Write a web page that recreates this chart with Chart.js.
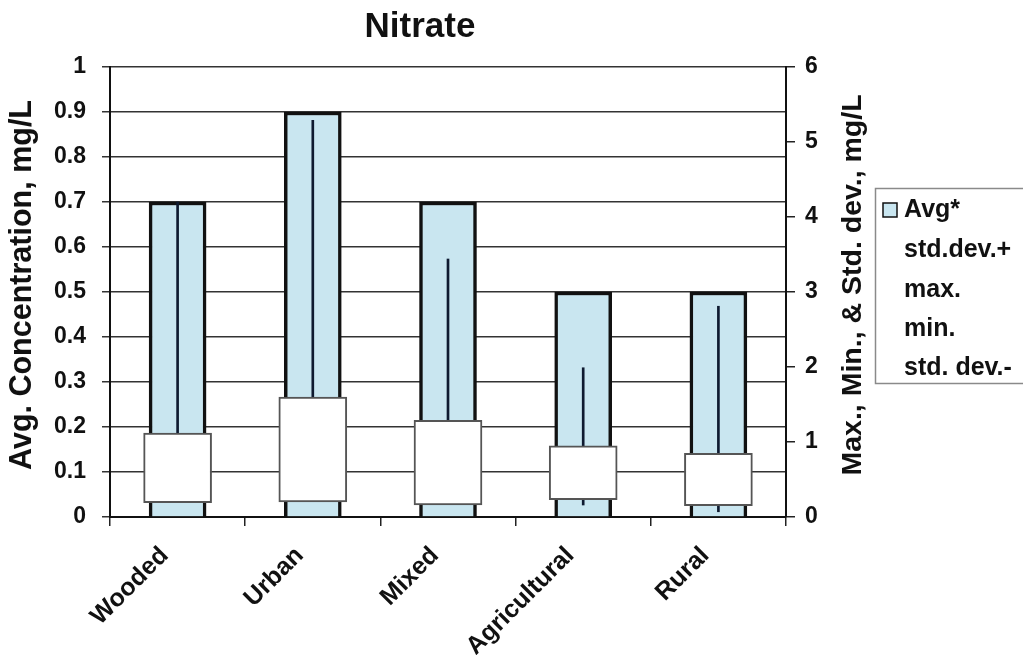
<!DOCTYPE html>
<html><head><meta charset="utf-8">
<script src="https://cdn.jsdelivr.net/npm/chart.js@4.4.1/dist/chart.umd.min.js"></script>
<style>html,body{margin:0;padding:0;background:#fff}#wrap{width:1023px;height:655px;position:relative}</style>
</head><body><div id="wrap"><canvas id="c"></canvas></div>
<script>
const categories = ['Wooded', 'Urban', 'Mixed', 'Agricultural', 'Rural'];
const avgConcentration = [0.7, 0.9, 0.7, 0.5, 0.5];
const stdDevPlus = [1.12, 1.6, 1.29, 0.95, 0.85];
const stdDevMinus = [0.19, 0.2, 0.16, 0.23, 0.15];
const maxValues = [4.2, 5.29, 3.44, 1.99, 2.81];
const minValues = [0.2, 0.22, 0.18, 0.16, 0.07];
const legendLabels = ['Avg*', 'std.dev.+', 'max.', 'min.', 'std. dev.-'];
const leftTickLabels = ['0', '0.1', '0.2', '0.3', '0.4', '0.5', '0.6', '0.7', '0.8', '0.9', '1'];
const rightTickLabels = ['0', '1', '2', '3', '4', '5', '6'];
const leftAxisTitle = 'Avg. Concentration, mg/L';
const rightAxisTitle = 'Max., Min., & Std. dev., mg/L';

const FONT = '"Liberation Sans", Arial, sans-serif';
const BAR_BLUE = '#c9e6f0';
Chart.defaults.font.family = FONT;
Chart.defaults.color = '#111';

const rangeData = categories.map((c, i) => [minValues[i], maxValues[i]]);
const boxData = categories.map((c, i) => [stdDevMinus[i], stdDevPlus[i]]);

function rotatedText(ctx, text, x, y, size) {
  ctx.save();
  ctx.translate(x, y);
  ctx.rotate(-Math.PI / 2);
  ctx.font = '700 ' + size + 'px ' + FONT;
  ctx.fillStyle = '#111';
  ctx.textAlign = 'center';
  ctx.textBaseline = 'middle';
  ctx.fillText(text, 0, 0);
  ctx.restore();
}

const extras = {
  id: 'extras',
  afterDraw(chart) {
    const ctx = chart.ctx;
    // axis titles (both read bottom to top)
    rotatedText(ctx, leftAxisTitle, 23, 285, 30.5);
    rotatedText(ctx, rightAxisTitle, 853, 285, 28.5);

    // legend
    ctx.save();
    ctx.strokeStyle = '#8a8a8a';
    ctx.lineWidth = 1.5;
    ctx.strokeRect(875.5, 188.5, 170, 195);
    ctx.fillStyle = BAR_BLUE;
    ctx.fillRect(883, 203, 14, 14);
    ctx.strokeStyle = '#111';
    ctx.lineWidth = 1.5;
    ctx.strokeRect(883, 203, 14, 14);
    ctx.fillStyle = '#111';
    ctx.font = '700 25px ' + FONT;
    ctx.textAlign = 'left';
    ctx.textBaseline = 'middle';
    const ys = [210, 250, 290, 329, 368];
    legendLabels.forEach((t, i) => ctx.fillText(t, 904, ys[i]));
    ctx.restore();
  }
};

new Chart(document.getElementById('c'), {
  type: 'bar',
  data: {
    labels: categories,
    datasets: [
      {
        label: legendLabels[0],
        data: avgConcentration,
        yAxisID: 'y',
        backgroundColor: BAR_BLUE,
        borderColor: '#111',
        borderWidth: 3.5,
        barThickness: 57,
        grouped: false,
        order: 3
      },
      {
        label: 'max-min',
        data: rangeData,
        yAxisID: 'y1',
        backgroundColor: '#0e1a30',
        borderWidth: 0,
        barThickness: 2,
        grouped: false,
        order: 2
      },
      {
        label: 'std dev',
        data: boxData,
        yAxisID: 'y1',
        backgroundColor: '#ffffff',
        borderColor: '#555',
        borderWidth: 2,
        borderSkipped: false,
        barThickness: 68,
        grouped: false,
        order: 1
      }
    ]
  },
  options: {
    responsive: true,
    maintainAspectRatio: false,
    animation: false,
    layout: { padding: { left: 0, right: 183, top: 0, bottom: 0 } },
    plugins: {
      legend: { display: false },
      tooltip: { enabled: false },
      title: {
        display: true,
        text: 'Nitrate',
        color: '#111',
        font: { size: 35, weight: 'bold' },
        padding: { top: 6, bottom: 19 }
      }
    },
    scales: {
      x: {
        offset: true,
        grid: { drawOnChartArea: false, offset: true, tickLength: 9, color: '#222', lineWidth: 1.5 },
        border: { color: '#111', width: 2 },
        ticks: {
          maxRotation: 45, minRotation: 45, color: '#111', padding: 15, labelOffset: -13,
          font: { size: 25, weight: 'bold' }
        },
        afterFit: s => { s.height = 138; }
      },
      y: {
        position: 'left',
        min: 0, max: 1,
        ticks: {
          stepSize: 0.1, color: '#111', padding: 16,
          font: { size: 23, weight: 'bold' },
          callback: (v, i) => leftTickLabels[i]
        },
        grid: { color: '#333', lineWidth: 1.5, tickLength: 8 },
        border: { color: '#111', width: 2 },
        afterFit: s => { s.width = 110; }
      },
      y1: {
        position: 'right',
        min: 0, max: 6,
        ticks: {
          stepSize: 1, color: '#111', padding: 10,
          font: { size: 23, weight: 'bold' },
          callback: (v, i) => rightTickLabels[i]
        },
        grid: { drawOnChartArea: false, color: '#222', lineWidth: 1.5, tickLength: 9 },
        border: { color: '#111', width: 2 },
        afterFit: s => { s.width = 54; }
      }
    }
  },
  plugins: [extras]
});
</script>
</body></html>
